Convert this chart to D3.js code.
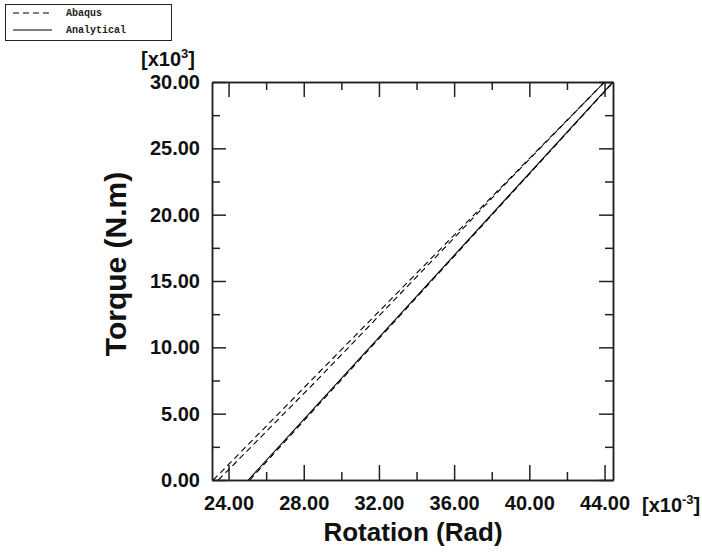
<!DOCTYPE html>
<html><head><meta charset="utf-8">
<script src="https://cdn.jsdelivr.net/npm/d3@7"></script>
<style>body{margin:0;background:#fff}svg{display:block}</style>
</head><body>
<svg id="c" width="702" height="554"></svg>
<script>
// ---- data ----
const xMajor = [24, 28, 32, 36, 40, 44];
const xMinor = [26, 30, 34, 38, 42];
const yMajor = [0, 5, 10, 15, 20, 25, 30];
const yMinor = [2.5, 7.5, 12.5, 17.5, 22.5, 27.5];
const xDomain = [23.12, 44.45];
const yDomain = [0, 30];
// Abaqus (dashed) curves: rotation [x10^-3 rad], torque [x10^3 N.m]
const abaqus1Rot = [23.19, 28.25, 35.75, 38.8, 44.0];
const abaqus1Tq  = [0, 7.3, 18.1, 22.5, 30];
const abaqus2Rot = [23.46, 28.55, 35.9, 38.85, 44.0];
const abaqus2Tq  = [0, 7.3, 18.1, 22.5, 30];
const abaqus3Rot = [25.13, 44.47];
const abaqus3Tq  = [0, 30];
// Analytical (solid)
const analyticalRot = [25.05, 44.45];
const analyticalTq  = [0, 30];
const legendLabels = ["Abaqus", "Analytical"];

// ---- chart ----
const svg = d3.select("#c");
const L = 212, R = 613, T = 82, B = 480;
const x = d3.scaleLinear().domain(xDomain).range([L, R]);
const y = d3.scaleLinear().domain(yDomain).range([B, T]);
const fmt = d3.format(".2f");
const FONT = "'Liberation Sans', Arial, Helvetica, sans-serif";

svg.append("defs").append("clipPath").attr("id", "clip")
  .append("rect").attr("x", L).attr("y", T).attr("width", R - L).attr("height", B - T);

function styleAxis(g, labels) {
  g.selectAll("path.domain").attr("stroke", "#222").attr("stroke-width", 1.5);
  g.selectAll(".tick line").attr("stroke", "#222").attr("stroke-width", 1.5);
  g.selectAll("text").attr("font-family", FONT).attr("font-weight", "bold")
    .attr("font-size", 20).attr("fill", "#111");
}

// bottom
svg.append("g").attr("transform", `translate(0,${B})`)
  .call(d3.axisBottom(x).tickValues(xMajor).tickSize(-15).tickSizeOuter(0).tickPadding(16).tickFormat(fmt))
  .call(styleAxis);
svg.append("g").attr("transform", `translate(0,${B})`)
  .call(d3.axisBottom(x).tickValues(xMinor).tickSize(-8).tickSizeOuter(0).tickFormat(""))
  .call(styleAxis);
// top
svg.append("g").attr("transform", `translate(0,${T})`)
  .call(d3.axisTop(x).tickValues(xMajor).tickSize(-15).tickSizeOuter(0).tickFormat(""))
  .call(styleAxis);
svg.append("g").attr("transform", `translate(0,${T})`)
  .call(d3.axisTop(x).tickValues(xMinor).tickSize(-8).tickSizeOuter(0).tickFormat(""))
  .call(styleAxis);
// left
svg.append("g").attr("transform", `translate(${L},0)`)
  .call(d3.axisLeft(y).tickValues(yMajor).tickSize(-14).tickSizeOuter(0).tickPadding(12).tickFormat(fmt))
  .call(styleAxis);
svg.append("g").attr("transform", `translate(${L},0)`)
  .call(d3.axisLeft(y).tickValues(yMinor).tickSize(-8).tickSizeOuter(0).tickFormat(""))
  .call(styleAxis);
// right
svg.append("g").attr("transform", `translate(${R},0)`)
  .call(d3.axisRight(y).tickValues(yMajor).tickSize(-14).tickSizeOuter(0).tickFormat(""))
  .call(styleAxis);
svg.append("g").attr("transform", `translate(${R},0)`)
  .call(d3.axisRight(y).tickValues(yMinor).tickSize(-8).tickSizeOuter(0).tickFormat(""))
  .call(styleAxis);

// curves
const line = d3.line().x(d => x(d[0])).y(d => y(d[1]));
const zip = (a, b) => a.map((v, i) => [v, b[i]]);
const curves = [
  {rot: abaqus1Rot, tq: abaqus1Tq, dash: "6,4"},
  {rot: abaqus2Rot, tq: abaqus2Tq, dash: "6,4"},
  {rot: abaqus3Rot, tq: abaqus3Tq, dash: "6,4"},
  {rot: analyticalRot, tq: analyticalTq, dash: null}
];
const cg = svg.append("g").attr("clip-path", "url(#clip)");
curves.forEach(c => {
  cg.append("path").attr("d", line(zip(c.rot, c.tq)))
    .attr("fill", "none").attr("stroke", "#000").attr("stroke-width", 1.1)
    .attr("stroke-dasharray", c.dash);
});

// multipliers
const m1 = svg.append("text").attr("x", 195).attr("y", 66).attr("text-anchor", "end")
  .attr("font-family", FONT).attr("font-weight", "bold").attr("font-size", 20).attr("fill", "#111");
m1.append("tspan").text("[x10");
m1.append("tspan").attr("dy", -8).attr("font-size", 13).text("3");
m1.append("tspan").attr("dy", 8).text("]");

const m2 = svg.append("text").attr("x", 642).attr("y", 512)
  .attr("font-family", FONT).attr("font-weight", "bold").attr("font-size", 20).attr("fill", "#111");
m2.append("tspan").text("[x10");
m2.append("tspan").attr("dy", -8).attr("font-size", 13).text("-3");
m2.append("tspan").attr("dy", 8).text("]");

// axis titles
svg.append("text").attr("x", 413).attr("y", 541).attr("text-anchor", "middle")
  .attr("font-family", FONT).attr("font-weight", "bold").attr("font-size", 26).attr("fill", "#111")
  .text("Rotation (Rad)");
svg.append("text").attr("transform", "translate(126,264) rotate(-90)").attr("text-anchor", "middle")
  .attr("font-family", FONT).attr("font-weight", "bold").attr("font-size", 30).attr("fill", "#111")
  .text("Torque (N.m)");

// legend
const lg = svg.append("g");
lg.append("rect").attr("x", 5.5).attr("y", 4.5).attr("width", 166).attr("height", 36)
  .attr("fill", "#fff").attr("stroke", "#222").attr("stroke-width", 1);
[["6,4", 13], [null, 30]].forEach((s, i) => {
  lg.append("line").attr("x1", 13).attr("x2", 52).attr("y1", s[1]).attr("y2", s[1])
    .attr("stroke", "#000").attr("stroke-width", 1).attr("stroke-dasharray", s[0]);
  lg.append("text").attr("x", 66).attr("y", s[1] + 3).attr("font-family", "'Liberation Mono', 'Courier New', monospace")
    .attr("font-size", 10).attr("font-weight", "bold").attr("fill", "#222").text(legendLabels[i]);
});
</script>
</body></html>
